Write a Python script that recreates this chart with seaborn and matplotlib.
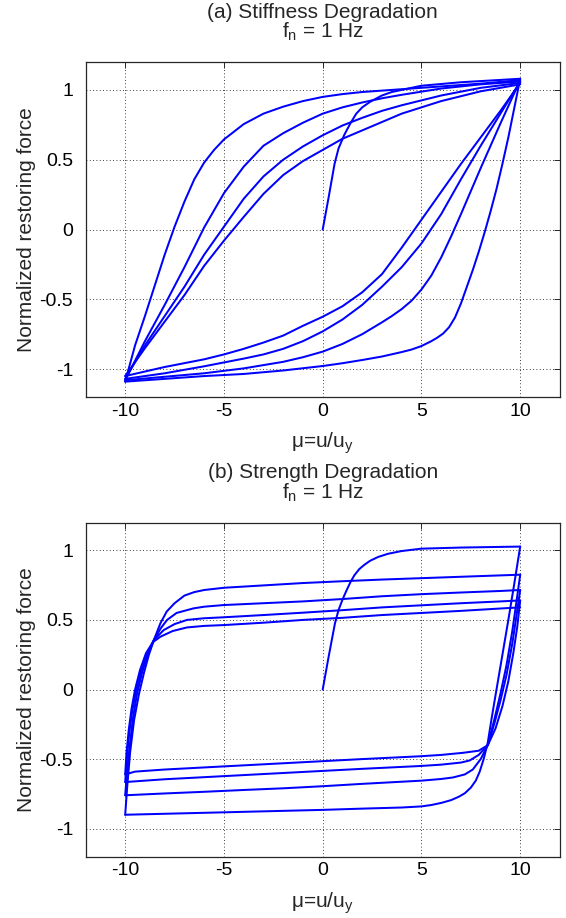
import matplotlib
matplotlib.use("Agg")
import matplotlib.pyplot as plt
import pandas as pd
import seaborn as sns

# ---------------- tick values / labels ----------------
x_ticks = [-10, -5, 0, 5, 10]
x_tick_labels = ["-10", "-5", "0", "5", "10"]
y_ticks = [-1, -0.5, 0, 0.5, 1]
y_tick_labels = ["-1", "-0.5", "0", "0.5", "1"]

titles_a = ["(a) Stiffness Degradation", "f$_\\mathregular{n}$ = 1 Hz"]
titles_b = ["(b) Strength Degradation", "f$_\\mathregular{n}$ = 1 Hz"]
x_label = "\u03bc=u/u$_\\mathregular{y}$"
y_label = "Normalized restoring force"

# ---------------- panel (a): stiffness degradation ----------------
a_virgin_x = [0, 0.3, 0.6, 0.8, 1.1, 1.4, 1.7, 2.0, 2.4, 3.0, 3.5, 5.0, 7.0, 10.0]
a_virgin_y = [0, 0.23, 0.47, 0.58, 0.68, 0.76, 0.83, 0.875, 0.915, 0.96, 0.985, 1.03, 1.055, 1.08]

a_down1_x = [10, 9.7, 9.4, 9.1, 8.8, 8.5, 8.2, 7.9, 7.6, 7.3, 7.0, 6.7, 6.4, 6.1, 5.8, 5.5, 5.0, 4.5, 4.0, 3.0, 2.0, 1.0, 0, -2, -4, -6, -8, -10]
a_down1_y = [1.08, 0.87, 0.66, 0.47, 0.29, 0.13, -0.02, -0.16, -0.29, -0.41, -0.53, -0.63, -0.70, -0.745, -0.775, -0.80, -0.835, -0.86, -0.878, -0.91, -0.935, -0.958, -0.978, -1.01, -1.035, -1.05, -1.07, -1.09]

a_up1_x = [-10, -9.5, -9, -8.5, -8, -7.5, -7, -6.5, -6, -5.5, -5, -4, -3, -2, -1, 0, 1, 2, 3, 4, 6, 8, 10]
a_up1_y = [-1.09, -0.83, -0.62, -0.40, -0.18, 0.02, 0.20, 0.36, 0.48, 0.57, 0.645, 0.755, 0.83, 0.88, 0.92, 0.95, 0.97, 0.985, 0.995, 1.005, 1.025, 1.045, 1.07]

a_down2_x = [10, 9, 8, 7, 6.5, 6, 5.5, 5, 4.5, 4, 3.5, 3, 2, 1, 0, -1, -2, -4, -6, -8, -10]
a_down2_y = [1.07, 0.76, 0.44, 0.11, -0.05, -0.20, -0.33, -0.43, -0.51, -0.57, -0.62, -0.665, -0.75, -0.82, -0.875, -0.915, -0.948, -0.995, -1.03, -1.055, -1.08]

a_up2_x = [-10, -9, -8, -7, -6, -5, -4, -3, -2, -1, 0, 1, 2, 3, 4, 6, 8, 10]
a_up2_y = [-1.08, -0.80, -0.54, -0.27, 0.015, 0.26, 0.45, 0.60, 0.69, 0.765, 0.83, 0.875, 0.91, 0.94, 0.965, 1.01, 1.04, 1.06]

a_down3_x = [10, 9, 8, 7, 6, 5, 4, 3, 2, 1, 0, -1, -2, -3, -4, -6, -8, -10]
a_down3_y = [1.06, 0.83, 0.60, 0.36, 0.11, -0.10, -0.27, -0.41, -0.54, -0.645, -0.73, -0.80, -0.855, -0.895, -0.925, -0.98, -1.03, -1.07]

a_up3_x = [-10, -9, -8, -7, -6, -5, -4, -3, -2, -1, 0, 1, 2, 3, 4, 6, 8, 10]
a_up3_y = [-1.07, -0.83, -0.62, -0.41, -0.18, 0.02, 0.22, 0.38, 0.50, 0.595, 0.675, 0.745, 0.80, 0.85, 0.89, 0.96, 1.015, 1.05]

a_down4_x = [10, 9, 8, 7, 6, 5, 4, 3, 2, 1, 0, -1, -2, -3, -4, -5, -6, -8, -10]
a_down4_y = [1.05, 0.85, 0.66, 0.47, 0.27, 0.07, -0.13, -0.32, -0.45, -0.55, -0.625, -0.69, -0.76, -0.81, -0.855, -0.895, -0.93, -0.985, -1.05]

a_up4_x = [-10, -9, -8, -7, -6, -5, -4, -3, -2, -1, 0, 1, 2, 3, 4, 6, 8, 10]
a_up4_y = [-1.05, -0.85, -0.66, -0.47, -0.26, -0.08, 0.09, 0.255, 0.39, 0.49, 0.57, 0.65, 0.71, 0.77, 0.83, 0.92, 0.99, 1.04]

# ---------------- panel (b): strength degradation ----------------
b_virgin_x = [0, 0.3, 0.62, 0.8, 1.0, 1.2, 1.4, 1.6, 1.85, 2.1, 2.4, 2.8, 3.3, 4.0, 5.0, 7.0, 10.0]
b_virgin_y = [0, 0.235, 0.475, 0.57, 0.645, 0.71, 0.77, 0.82, 0.865, 0.895, 0.925, 0.952, 0.975, 0.995, 1.012, 1.02, 1.027]

b_down1_x = [10, 9.7, 9.4, 9.1, 8.8, 8.55, 8.36, 8.15, 7.95, 7.75, 7.5, 7.2, 6.9, 6.5, 6.0, 5.5, 5.0, 4.0, 2.0, 0, -2, -4, -6, -8, -10]
b_down1_y = [1.027, 0.76, 0.50, 0.25, 0.0, -0.21, -0.38, -0.50, -0.59, -0.655, -0.705, -0.745, -0.77, -0.795, -0.815, -0.83, -0.84, -0.848, -0.856, -0.865, -0.872, -0.879, -0.886, -0.893, -0.90]

b_up1_x = [-10, -9.9, -9.75, -9.55, -9.3, -9.05, -8.8, -8.55, -8.22, -7.9, -7.5, -7.0, -6.5, -6, -5, -3, -1, 1, 3, 5, 7, 9, 10]
b_up1_y = [-0.90, -0.70, -0.45, -0.22, -0.03, 0.12, 0.25, 0.355, 0.475, 0.56, 0.62, 0.675, 0.70, 0.715, 0.731, 0.748, 0.765, 0.778, 0.79, 0.80, 0.81, 0.82, 0.825]

b_down2_x = [10, 9.8, 9.6, 9.3, 9.0, 8.7, 8.36, 8.0, 7.6, 7.2, 6.6, 6.0, 5.0, 2.0, 0, -2, -4, -6, -8, -10]
b_down2_y = [0.825, 0.62, 0.42, 0.17, -0.03, -0.21, -0.40, -0.50, -0.575, -0.61, -0.632, -0.643, -0.655, -0.678, -0.695, -0.71, -0.722, -0.735, -0.747, -0.76]

b_up2_x = [-10, -9.9, -9.75, -9.6, -9.4, -9.15, -8.85, -8.55, -8.2, -7.88, -7.4, -6.54, -6, -5, -3, -1, 1, 3, 5, 7, 9, 10]
b_up2_y = [-0.76, -0.58, -0.38, -0.20, -0.03, 0.12, 0.25, 0.355, 0.44, 0.50, 0.55, 0.583, 0.595, 0.607, 0.62, 0.633, 0.65, 0.67, 0.685, 0.697, 0.708, 0.715]

b_down3_x = [10, 9.8, 9.6, 9.3, 9.0, 8.7, 8.36, 7.9, 7.44, 7.0, 6.0, 4.91, 2.0, 0, -2, -4, -6, -8, -10]
b_down3_y = [0.715, 0.52, 0.33, 0.10, -0.08, -0.24, -0.40, -0.47, -0.51, -0.525, -0.54, -0.55, -0.57, -0.585, -0.60, -0.615, -0.63, -0.645, -0.665]

b_up3_x = [-10, -9.92, -9.8, -9.65, -9.45, -9.2, -8.9, -8.55, -8.05, -7.5, -6.87, -6, -5, -3, -1, 1, 3, 5, 7, 9, 10]
b_up3_y = [-0.665, -0.50, -0.32, -0.16, -0.01, 0.13, 0.25, 0.355, 0.427, 0.47, 0.50, 0.512, 0.519, 0.535, 0.552, 0.57, 0.59, 0.605, 0.62, 0.633, 0.64]

b_down4_x = [10, 9.85, 9.65, 9.4, 9.1, 8.75, 8.36, 7.9, 7.1, 6.0, 4.91, 2.0, 0, -2, -4, -6, -8, -9.5, -10]
b_down4_y = [0.64, 0.45, 0.26, 0.06, -0.12, -0.28, -0.40, -0.44, -0.455, -0.47, -0.48, -0.50, -0.515, -0.53, -0.545, -0.56, -0.575, -0.59, -0.61]

b_up4_x = [-10, -9.93, -9.82, -9.68, -9.5, -9.25, -8.95, -8.6, -8.22, -7.6, -6.87, -6, -5, -3, -1, 1, 3, 5, 7, 9, 10]
b_up4_y = [-0.61, -0.45, -0.29, -0.14, 0.0, 0.14, 0.26, 0.34, 0.379, 0.42, 0.446, 0.457, 0.463, 0.48, 0.50, 0.515, 0.535, 0.55, 0.565, 0.582, 0.59]

panel_a = [(a_virgin_x, a_virgin_y), (a_down1_x, a_down1_y), (a_up1_x, a_up1_y),
           (a_down2_x, a_down2_y), (a_up2_x, a_up2_y), (a_down3_x, a_down3_y),
           (a_up3_x, a_up3_y), (a_down4_x, a_down4_y), (a_up4_x, a_up4_y)]
panel_b = [(b_virgin_x, b_virgin_y), (b_down1_x, b_down1_y), (b_up1_x, b_up1_y),
           (b_down2_x, b_down2_y), (b_up2_x, b_up2_y), (b_down3_x, b_down3_y),
           (b_up3_x, b_up3_y), (b_down4_x, b_down4_y), (b_up4_x, b_up4_y)]


def build_frame(branches):
    rows = []
    for k, (xs, ys) in enumerate(branches):
        for i, (xv, yv) in enumerate(zip(xs, ys)):
            rows.append({"branch": k, "order": i, "x": xv, "y": yv})
    return pd.DataFrame(rows)


sns.set_style("white")
plt.rcParams["font.family"] = ["Liberation Sans", "DejaVu Sans"]
plt.rcParams["mathtext.default"] = "regular"

W, H = 566, 918
fig = plt.figure(figsize=(W / 100, H / 100), dpi=100)
ax_left = 85.7 / W
ax_w = 474.0 / W
ax1 = fig.add_axes([ax_left, (H - 397.0) / H, ax_w, 335.0 / H])
ax2 = fig.add_axes([ax_left, (H - 856.5) / H, ax_w, 334.0 / H])

spine_col = "#262626"
tick_fs = 14
text_fs = 15
for ax, branches, titles, top_px, bot_px in [
    (ax1, panel_a, titles_a, 62.0, 397.0),
    (ax2, panel_b, titles_b, 522.5, 856.5),
]:
    df = build_frame(branches)
    sns.lineplot(data=df, x="x", y="y", units="branch", estimator=None, sort=False,
                 color="#0000ff", linewidth=1.45, ax=ax, legend=False)
    ax.set_xlim(-12, 12)
    ax.set_ylim(-1.2, 1.2)
    ax.set_xticks(x_ticks)
    ax.set_xticklabels(x_tick_labels)
    ax.set_yticks(y_ticks)
    ax.set_yticklabels(y_tick_labels)
    ax.set_xlabel("")
    ax.set_ylabel("")
    ax.grid(True, linestyle=(0, (1, 3)), color="black", linewidth=0.6)
    ax.set_axisbelow(True)
    for s in ax.spines.values():
        s.set_visible(True)
        s.set_color(spine_col)
        s.set_linewidth(0.9)
    ax.tick_params(direction="in", length=4, width=0.7, top=True, right=True,
                   labelsize=tick_fs, color=spine_col, labelcolor="black")
    ax.tick_params(axis="x", pad=4)
    ax.tick_params(axis="y", pad=9)

    hpx = bot_px - top_px
    ax.text(0.5, 1 + 44.0 / hpx, titles[0], transform=ax.transAxes,
            ha="center", va="baseline", fontsize=text_fs)
    ax.text(0.5, 1 + 24.0 / hpx, titles[1], transform=ax.transAxes,
            ha="center", va="baseline", fontsize=text_fs)
    ax.text(0.5, -51.0 / hpx, x_label, transform=ax.transAxes,
            ha="center", va="baseline", fontsize=text_fs)
    fig.text(26.5 / W, 1 - ((top_px + bot_px) / 2) / H, y_label, rotation=90,
             ha="center", va="center", fontsize=text_fs)

fig.savefig("out.png", dpi=100)
